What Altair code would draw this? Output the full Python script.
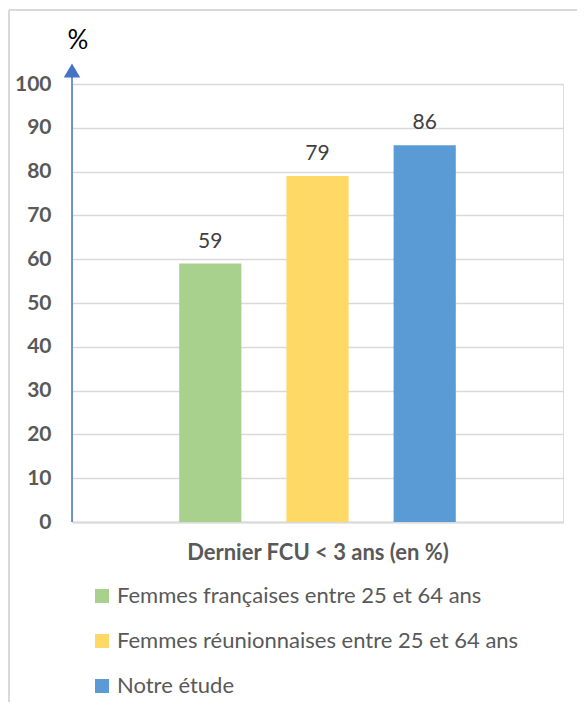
import altair as alt
import pandas as pd

series = ["Femmes françaises entre 25 et 64 ans",
          "Femmes réunionnaises entre 25 et 64 ans",
          "Notre étude"]
values = [59, 79, 86]
colors = ["#A9D18E", "#FFD966", "#5B9BD5"]
y_ticks = [0, 10, 20, 30, 40, 50, 60, 70, 80, 90, 100]
x_title = "Dernier FCU < 3 ans (en %)"
y_title = "%"

df = pd.DataFrame({"serie": series, "valeur": values})
one = pd.DataFrame({"k": [0]})

W, H = 491, 438
FONT = "Lato"

x_enc = alt.X("serie:N", sort=series,
              scale=alt.Scale(paddingInner=0.42, paddingOuter=1),
              axis=alt.Axis(labels=False, ticks=False, title=x_title,
                            domainColor="#d9d9d9", domainWidth=2,
                            titleFont=FONT, titleFontSize=22, titleFontWeight="bold",
                            titleColor="#595959", titlePadding=20))
y_enc = alt.Y("valeur:Q", scale=alt.Scale(domain=[0, 100], nice=False),
              axis=alt.Axis(values=y_ticks, title=y_title, titleAngle=0,
                            titleX=-5, titleY=-36, titleAlign="left",
                            titleBaseline="alphabetic", titleFont=FONT,
                            titleFontSize=26, titleFontWeight="normal", titleColor="#000000",
                            labelFont=FONT, labelFontSize=21, labelFontWeight="bold",
                            labelColor="#595959", labelPadding=21, ticks=False,
                            domain=False, gridColor="#d9d9d9", gridWidth=1.5))

bars = alt.Chart(df).mark_bar().encode(
    x=x_enc, y=y_enc,
    color=alt.Color("serie:N", sort=series,
                    scale=alt.Scale(domain=series, range=colors),
                    legend=alt.Legend(title=None, orient="none", legendX=19, legendY=501,
                                      direction="vertical", symbolType="square",
                                      symbolSize=196, symbolStrokeWidth=0,
                                      labelFont=FONT, labelFontSize=22,
                                      labelColor="#595959", labelLimit=600,
                                      labelOffset=4, rowPadding=23, padding=0)),
)

labels = alt.Chart(df).mark_text(font=FONT, fontSize=21, color="#404040",
                                 baseline="alphabetic", dy=-16).encode(
    x=alt.X("serie:N", sort=series), y="valeur:Q", text="valeur:Q")

axis_line = alt.Chart(one).mark_rule(color="#4472C4", strokeWidth=1.5).encode(
    x=alt.value(0), y=alt.value(H), y2=alt.value(-12))
arrow = alt.Chart(one).mark_point(shape="triangle-up", filled=True, opacity=1,
                                  color="#4472C4", size=270).encode(
    x=alt.value(0), y=alt.value(-13.5))

border_top = alt.Chart(one).mark_rule(color="#d9d9d9", strokeWidth=2).encode(
    x=alt.value(-63), x2=alt.value(W + 40), y=alt.value(-74))
border_left = alt.Chart(one).mark_rule(color="#d9d9d9", strokeWidth=2).encode(
    x=alt.value(-63), y=alt.value(-74), y2=alt.value(H + 200))

chart = alt.layer(border_top, border_left, bars, labels, axis_line, arrow).properties(
    width=W, height=H,
    autosize=alt.AutoSizeParams(type="none"),
    padding={"left": 64, "top": 76, "right": 14, "bottom": 180},
).configure_view(stroke=None).configure(background="white")

chart.save("out.html", embed_options={"renderer": "svg", "actions": False})
